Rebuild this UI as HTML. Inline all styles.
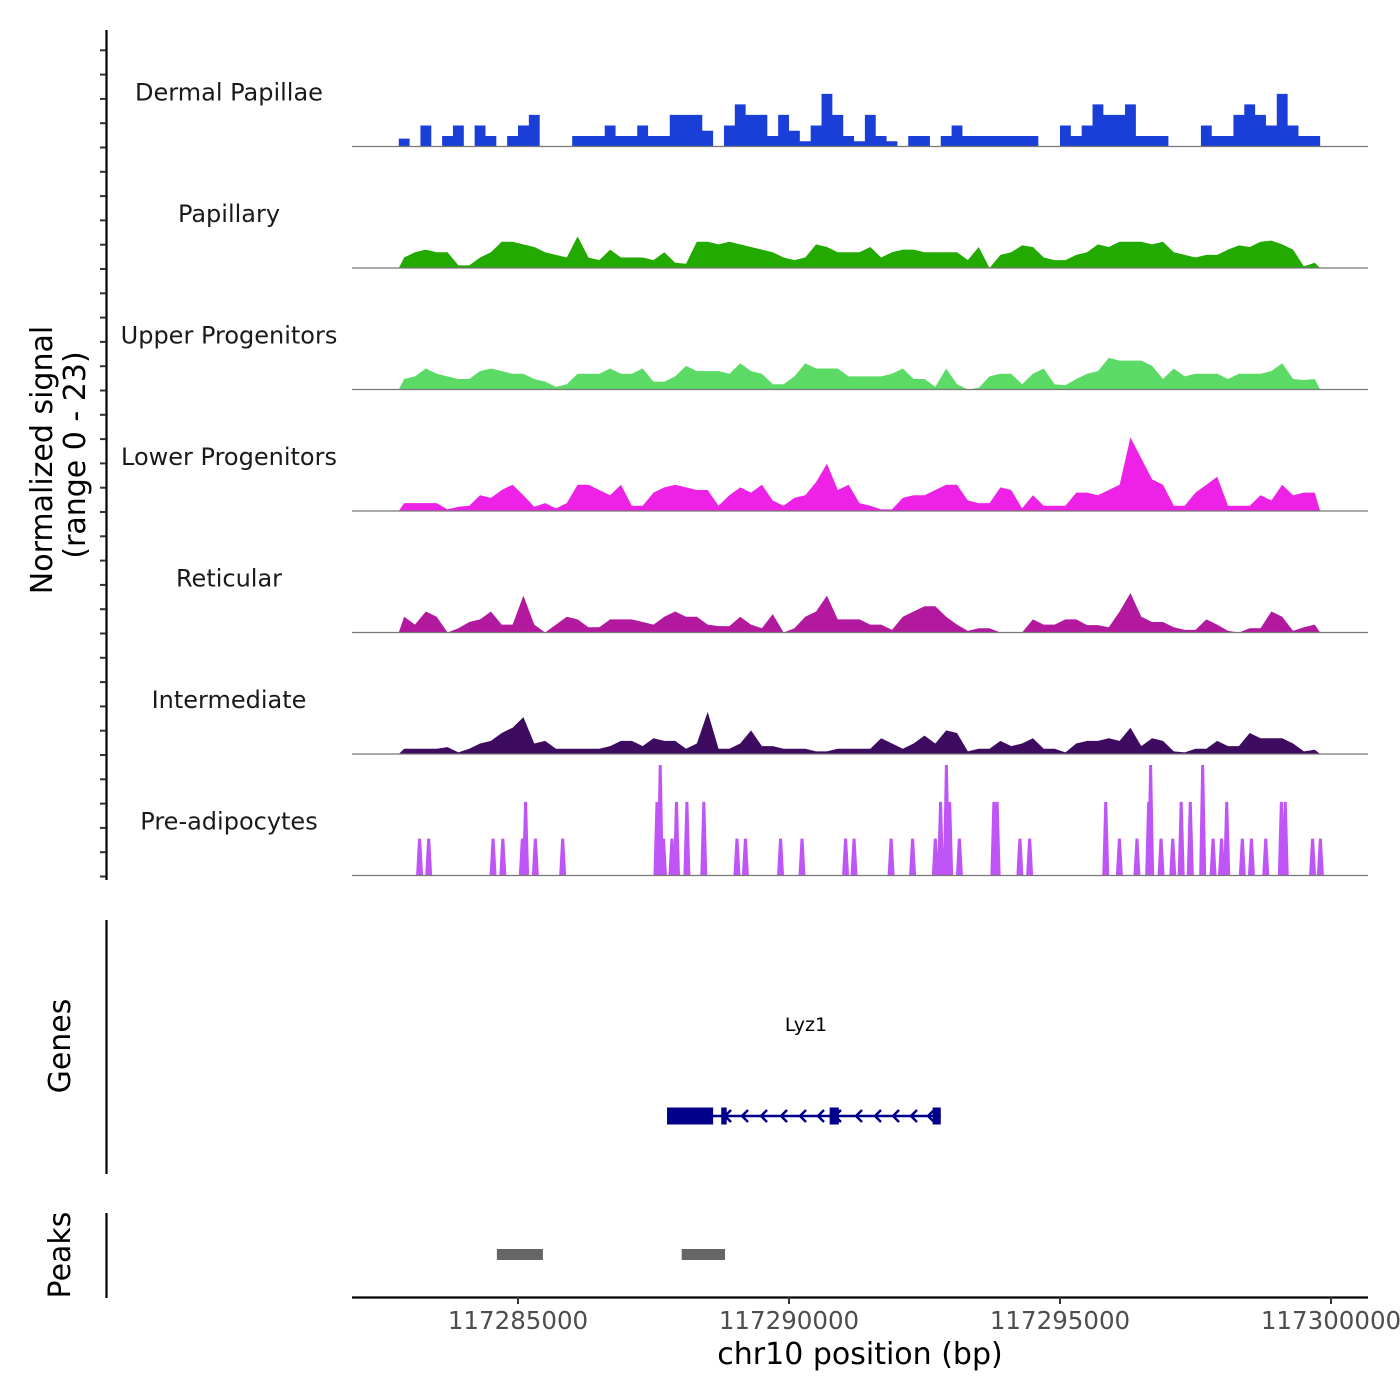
<!DOCTYPE html>
<html><head><meta charset="utf-8">
<style>
html,body{margin:0;padding:0;background:#fff;}
svg{display:block;font-family:"DejaVu Sans","Liberation Sans",sans-serif;}
</style></head>
<body>
<svg id="chart" width="1400" height="1400" viewBox="0 0 1400 1400" xmlns="http://www.w3.org/2000/svg">
  <rect x="0" y="0" width="1400" height="1400" fill="#fff"/>
  <g id="tracks"></g>
  <line x1="106.5" y1="30" x2="106.5" y2="880" stroke="#000" stroke-width="2.2"/>
  <g id="yticks"></g>
  <text transform="translate(52,460) rotate(-90)" text-anchor="middle" font-size="30" fill="#000">Normalized signal</text>
  <text transform="translate(85,455) rotate(-90)" text-anchor="middle" font-size="30" fill="#000">(range 0 - 23)</text>

  <line x1="106.5" y1="920" x2="106.5" y2="1174" stroke="#000" stroke-width="2.2"/>
  <text transform="translate(70,1046) rotate(-90)" text-anchor="middle" font-size="30" fill="#000">Genes</text>
  <g id="genes"></g>

  <line x1="106.5" y1="1213" x2="106.5" y2="1298" stroke="#000" stroke-width="2.2"/>
  <text transform="translate(70,1255) rotate(-90)" text-anchor="middle" font-size="30" fill="#000">Peaks</text>
  <g id="peaks"></g>

  <line x1="352" y1="1297.5" x2="1368" y2="1297.5" stroke="#000" stroke-width="2.2"/>
  <g id="xticks"></g>
  <text x="860" y="1364" text-anchor="middle" font-size="30" fill="#000">chr10 position (bp)</text>
</svg>
<script>
const trackNames = ["Dermal Papillae","Papillary","Upper Progenitors","Lower Progenitors","Reticular","Intermediate","Pre-adipocytes"];
const trackColors = ["#1a3fd9","#22aa00","#5bdb66","#ee22e6","#b3199f","#3d0b5f","#bf55f7"];
const binStart = 117282800;
const binSize = 200;
const dermalValues = [1.5,0,4,0,2,4,0,4,2,0,2,4,6,0,0,0,2,2,2,4,2,2,4,2,2,6,6,6,3,0,4,8,6,6,2,6,3,1,4,10,6,2,1,6,2,1,0,2,2,0,2,4,2,2,2,2,2,2,2,0,0,4,2,4,8,6,6,8,2,2,2,0,0,0,4,2,2,6,8,6,4,10,4,2,2];
const papillaryValues = [2,3,3.5,3,3,0.5,0.5,2,3,5,5,4.5,4,3,2.5,2,6,2,1.5,3.5,2,2,2,1.5,3,1,0.8,5,5,4.5,5,4.5,4,3.5,3,2,1.5,2,4.5,4,3,3,3,4,2,3,3.5,3.5,3,3,3,3,1.5,4,0,2.5,3,4.3,4,2,1.5,1.5,2.5,3,4.5,4,5,5,5,4.5,5,3,2.5,2,2.5,2.5,3.5,4.3,4,5,5.2,4.5,3.5,0.3,1];
const upperValues = [2,2.5,4,3,2.5,2,2,3.5,4,3.5,3,3,2,1.5,0.5,1,3,3,3,4,3,3,4,1.5,1.5,2.5,4.5,3.5,3.5,3.5,3,5,3.5,3,1,1,2.5,5,4,4,4,2.5,2.5,2.5,2.5,3,4,2,2,0.5,4,1,0,0.3,2.5,3,3,1,3,4,1,0.8,2,3,3.5,6,5.5,5.5,5.5,4.5,2,4,2.5,3,3,3,2,3,3,3,3.5,5,2,1.8,2];
const lowerValues = [1.5,1.5,1.5,1.5,0.3,0.8,1,3,2.5,4,5,3,0.8,1.5,0.5,1.5,5,5,4,3,5,1,1,3.5,4.5,5,4.5,4,4,1,3,4.5,3.5,5,2,1,2.5,3,5.5,9,4,5,1.5,1,0.3,0.3,2.5,3,3,4,5,5,2,1.5,1.5,4.5,4,0.5,3,1,1,1,3.5,3.5,3,4,5,14,10,6,5,1,1,3.5,5,6.5,1,1,1,3,2,5,3,3.5,3.5];
const reticularValues = [3,1.5,4,3,0,0.8,2,2.5,4,1.5,1.5,7,1.5,0,1.5,3,2.5,1,1,2.5,2.5,2.5,2,1.5,3,4,3,3,1.5,1.2,1.2,3,1.5,0.8,3.5,0,0.8,3,4,7,2.5,2.5,2.5,1.5,1.5,0.5,3,4,5,5,3,1.5,0.3,0.8,0.8,0,0,0,2.5,1.5,1.5,2.5,2.5,1.4,1.4,1,4,7.5,3,2,2,1,0.5,0.5,2.5,1.5,0.3,0,0.8,0.8,4,3,0.3,1,1.5];
const intermediateValues = [1,1,1,1,1.3,0.3,1,2,2.5,4,5,7,2,2.5,1,1,1,1,1,1.5,2.5,2.5,1.5,3,2.5,2.5,1,2,8,1,1,2,4.5,1.5,1.5,1,1,1,0.5,0.5,1,1,1,1,3,2,1,2,3.5,2,4.5,4,0.5,1,1,2.5,1.5,2,3,1,1,0.3,2,2.5,2.5,3,2.5,5,1.5,3,2.5,0.5,0.3,1,1,2.5,1.5,1.5,4,3,3,3,2,0.5,0.8];
const preadipPositions = [117283184,117283352,117284540,117284720,117285080,117285140,117285320,117285824,117287564,117287624,117287684,117287840,117287924,117288116,117288428,117289040,117289196,117289844,117290240,117291044,117291200,117291884,117292280,117292700,117292796,117292904,117292964,117293144,117293780,117293840,117294260,117294440,117295844,117296096,117296420,117296636,117296672,117296864,117297080,117297236,117297404,117297632,117297824,117297980,117298076,117298364,117298532,117298796,117299084,117299156,117299660,117299804];
const preadipValues = [7,7,7,7,7,14,7,7,14,21,7,7,14,14,14,7,7,7,7,7,7,7,7,7,14,21,14,7,14,14,7,7,14,7,7,14,21,7,7,14,14,21,7,7,14,7,7,7,14,14,7,7];
const xTickValues = [117285000,117290000,117295000,117300000];
const xTickLabels = ["117285000","117290000","117295000","117300000"];
const geneStart = 117287750, geneEnd = 117292800;
const exonStarts = [117287750,117288750,117290750,117292650];
const exonEnds = [117288600,117288850,117290920,117292800];
const peakStarts = [117284610,117288020];
const peakEnds = [117285460,117288820];

const NS = "http://www.w3.org/2000/svg";
function x(bp){ return 518 + (bp - 117285000) * 0.0542; }
const trackH = 121.5, firstBase = 146.5, unitPx = 121 / 23;
function yv(v, base){ return base - v * unitPx; }
function mk(tag, attrs, parent){ const e = document.createElementNS(NS, tag); for (const k in attrs) e.setAttribute(k, attrs[k]); parent.appendChild(e); return e; }

const tracks = document.getElementById("tracks");
const series = [dermalValues,papillaryValues,upperValues,lowerValues,reticularValues,intermediateValues];
for (let t = 0; t < 7; t++) {
  const base = firstBase + t * trackH;
  const g = mk("g", {}, tracks);
  
  
  const lab = mk("text", {x: 229, y: base - 46, "text-anchor": "middle", "font-size": 24, fill: "#1a1a1a"}, g);
  lab.textContent = trackNames[t];
  
  
  let d = "";
  if (t === 0) {
    const vals = series[0];
    d = "M" + x(binStart) + "," + base;
    for (let i = 0; i < vals.length; i++) {
      const x0 = x(binStart + i * binSize), x1 = x(binStart + (i + 1) * binSize);
      const yy = yv(vals[i], base);
      d += " L" + x0 + "," + yy + " L" + x1 + "," + yy;
    }
    d += " L" + x(binStart + vals.length * binSize) + "," + base + " Z";
  } else if (t < 6) {
    const vals = series[t];
    d = "M" + x(binStart) + "," + base;
    for (let i = 0; i < vals.length; i++) {
      d += " L" + x(binStart + (i + 0.5) * binSize) + "," + yv(vals[i], base);
    }
    d += " L" + x(binStart + vals.length * binSize) + "," + base + " Z";
  } else {
    for (let i = 0; i < preadipPositions.length; i++) {
      const cx = x(preadipPositions[i]), yy = yv(preadipValues[i], base);
      d += "M" + (cx - 3.5) + "," + base + " L" + (cx - 1.5) + "," + yy + " L" + (cx + 1.5) + "," + yy + " L" + (cx + 3.5) + "," + base + " Z ";
    }
  }
  const area = mk("path", {d: d, fill: trackColors[t]}, g);
  
  
  const bl = mk("line", {x1: 352, x2: 1368, y1: base, y2: base, stroke: "#777", "stroke-width": 1.2}, g);
  
  
}

const yt = document.getElementById("yticks");
for (let k = 0; k < 35; k++) {
  const yy = 876.5 - k * 24.3;
  const tk = mk("line", {x1: 100, x2: 106, y1: yy, y2: yy, stroke: "#333", "stroke-width": 2}, yt);
  
  
}

const xt = document.getElementById("xticks");
for (let i = 0; i < xTickValues.length; i++) {
  const xx = x(xTickValues[i]);
  const tk = mk("line", {x1: xx, x2: xx, y1: 1297, y2: 1304, stroke: "#333", "stroke-width": 2}, xt);
  
  
  const tl = mk("text", {x: xx, y: 1329, "text-anchor": "middle", "font-size": 24.5, fill: "#4d4d4d"}, xt);
  tl.textContent = xTickLabels[i];
  
  
}

const gg = document.getElementById("genes");
const gl = mk("text", {x: 806, y: 1031, "text-anchor": "middle", "font-size": 19, fill: "#000"}, gg);
gl.textContent = "Lyz1";


const gline = mk("line", {x1: x(geneStart), x2: x(geneEnd), y1: 1116, y2: 1116, stroke: "#00008b", "stroke-width": 2.5}, gg);


for (let i = 0; i < exonStarts.length; i++) {
  const ex = mk("rect", {x: x(exonStarts[i]), y: 1107.5, width: x(exonEnds[i]) - x(exonStarts[i]), height: 17, fill: "#00008b"}, gg);
  
  
}
const chevX = [727,744,763,783,802,820,837,858,877,895,913,930];
for (const cx of chevX) {
  const ch = mk("path", {d: "M" + (cx + 4) + ",1110 L" + (cx - 2) + ",1116 L" + (cx + 4) + ",1122", fill: "none", stroke: "#00008b", "stroke-width": 2.5}, gg);
  
  
}

const pg = document.getElementById("peaks");
for (let i = 0; i < peakStarts.length; i++) {
  const p = mk("rect", {x: x(peakStarts[i]), y: 1249, width: x(peakEnds[i]) - x(peakStarts[i]), height: 11, fill: "#666"}, pg);
  
  
}
</script>
</body></html>
